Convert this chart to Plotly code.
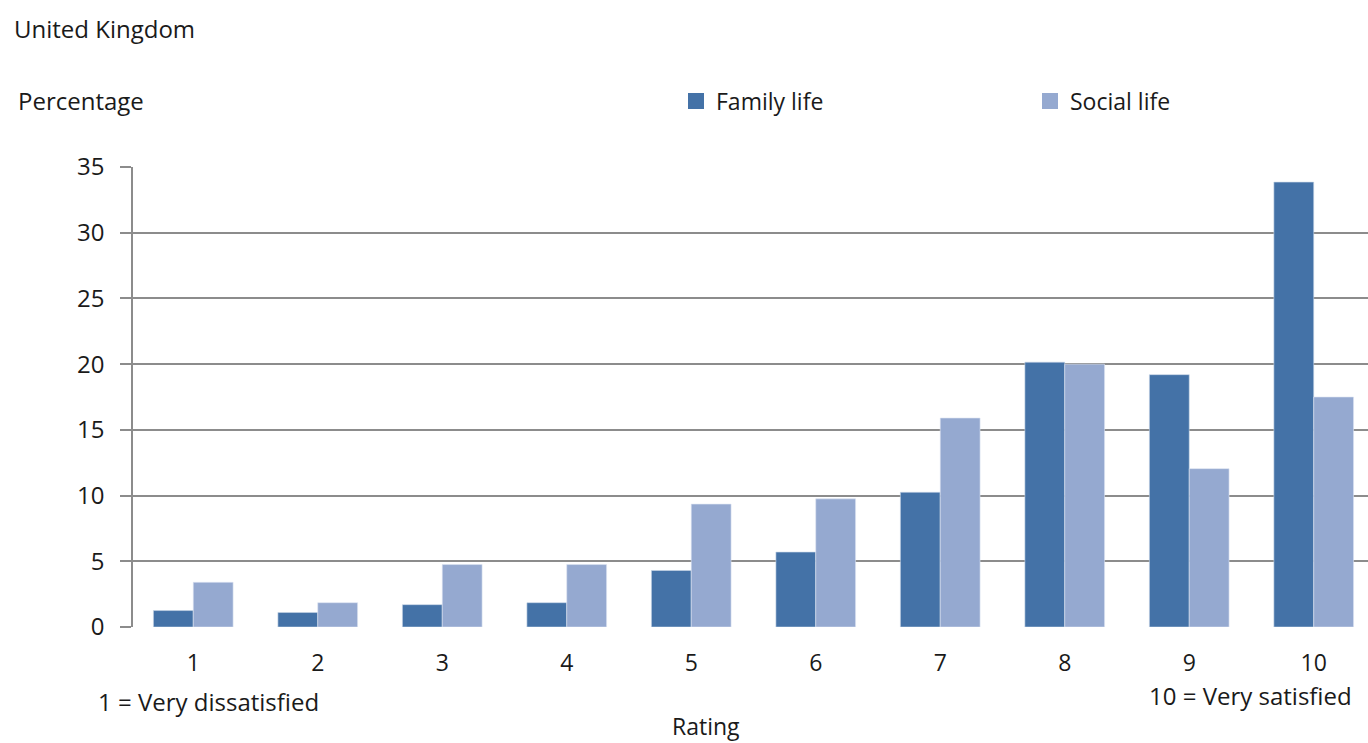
import plotly.graph_objs as go

ratings = [1, 2, 3, 4, 5, 6, 7, 8, 9, 10]
family_life = [1.25, 1.1, 1.7, 1.85, 4.3, 5.7, 10.25, 20.15, 19.2, 33.85]
social_life = [3.4, 1.85, 4.75, 4.75, 9.35, 9.75, 15.9, 20.0, 12.05, 17.5]
y_ticks = [0, 5, 10, 15, 20, 25, 30, 35]

FAMILY_COLOR = '#4472a7'
SOCIAL_COLOR = '#95a9d0'
GRID = '#8c8c8c'
FONT = 'Open Sans'
TXT = '#1a1a1a'

fig = go.Figure()
fig.add_trace(go.Bar(x=ratings, y=family_life, name='Family life', showlegend=False,
                     marker=dict(color=FAMILY_COLOR, line=dict(color='#c9d6e8', width=0.6))))
fig.add_trace(go.Bar(x=ratings, y=social_life, name='Social life', showlegend=False,
                     marker=dict(color=SOCIAL_COLOR, line=dict(color='#dde4f1', width=0.6))))

# legend-only entries so the swatches come out as big squares like the original
for name, color in [('Family life', FAMILY_COLOR), ('Social life', SOCIAL_COLOR)]:
    fig.add_trace(go.Scatter(x=[None], y=[None], mode='markers', name=name,
                             marker=dict(symbol='square', size=17, color=color)))

fig.update_layout(
    width=1368, height=743,
    margin=dict(l=133, r=0, t=167, b=116),
    paper_bgcolor='white', plot_bgcolor='white',
    font=dict(family=FONT, size=24, color=TXT),
    barmode='group', bargap=0.36, bargroupgap=0,
    showlegend=True,
    legend=dict(orientation='h', xref='container', yref='container',
                x=676 / 1368, xanchor='left', y=1 - 101 / 743, yanchor='middle',
                entrywidth=309, entrywidthmode='pixels', itemwidth=30,
                font=dict(size=23, color=TXT), bgcolor='rgba(0,0,0,0)',
                traceorder='normal'),
    xaxis=dict(range=[0.516, 10.436], tickvals=ratings, ticktext=[str(r) for r in ratings],
               showgrid=False, zeroline=False, showline=False, ticks='',
               ticklabelstandoff=20, tickfont=dict(size=23, color=TXT)),
    yaxis=dict(range=[0, 35], tickvals=y_ticks, showgrid=True, gridcolor=GRID, gridwidth=1.6,
               zeroline=False, showline=True, linecolor=GRID, linewidth=1.6,
               ticks='outside', ticklen=11, tickcolor=GRID, tickwidth=1.6,
               ticklabelstandoff=11, tickfont=dict(size=24, color=TXT)),
)

notes = [
    ('United Kingdom', 12, 28),
    ('Percentage', 16, 100),
]
for text, x, y in notes:
    fig.add_annotation(text=text, xref='paper', yref='paper', showarrow=False,
                       x=(x - 133) / 1235, y=(627 - y) / 460, xanchor='left', yanchor='middle',
                       font=dict(size=24, color=TXT))

fig.add_annotation(text='1 = Very dissatisfied', xref='paper', yref='paper', showarrow=False,
                   x=(96 - 133) / 1235, y=(627 - 701) / 460, xanchor='left', yanchor='middle',
                   font=dict(size=24, color=TXT))
fig.add_annotation(text='10 = Very satisfied', xref='paper', yref='paper', showarrow=False,
                   x=(1354 - 133) / 1235, y=(627 - 695) / 460, xanchor='right', yanchor='middle',
                   font=dict(size=24, color=TXT))
fig.add_annotation(text='Rating', xref='paper', yref='paper', showarrow=False,
                   x=(706 - 133) / 1235, y=(627 - 726) / 460, xanchor='center', yanchor='middle',
                   font=dict(size=23, color=TXT))

# page body has an 8px default margin; drop it so the figure sits at the window corner
fig.write_html("out.html", config={'displayModeBar': False},
               post_script="document.body.style.margin='0';document.body.style.overflow='hidden';")
